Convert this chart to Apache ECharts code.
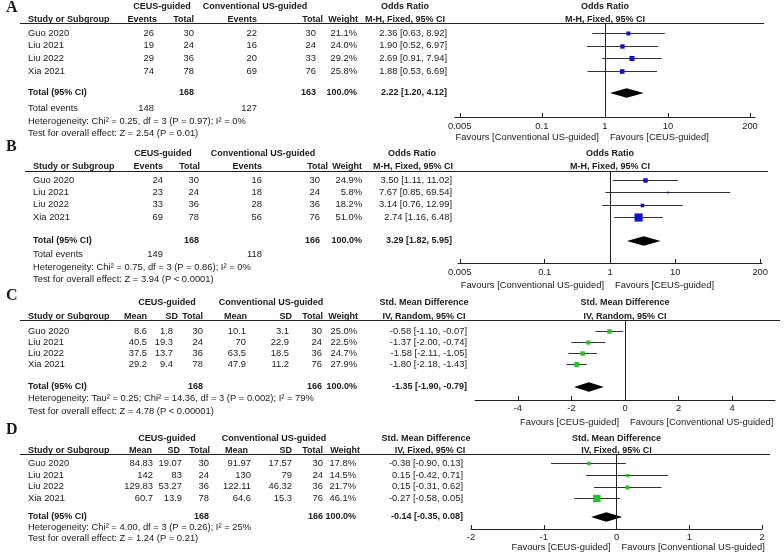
<!DOCTYPE html>
<html><head><meta charset="utf-8">
<script src="https://cdn.jsdelivr.net/npm/echarts@6/dist/echarts.min.js"></script>
<style>html,body{margin:0;padding:0;background:#fff}#c{width:784px;height:556px}</style>
</head><body><div id="c"></div>
<script>
// ---------------- DATA ----------------
const studies = ['Guo 2020', 'Liu 2021', 'Liu 2022', 'Xia 2021'];
const groupHeads = ['CEUS-guided', 'Conventional US-guided'];

// Panel A (odds ratio)
const aCeusEvents = [26, 19, 29, 74];
const aCeusTotal  = [30, 24, 36, 78];
const aConvEvents = [22, 16, 20, 69];
const aConvTotal  = [30, 24, 33, 76];
const aWeight = [21.1, 24.0, 29.2, 25.8];
const aEst  = [2.36, 1.90, 2.69, 1.88];
const aLow  = [0.63, 0.52, 0.91, 0.53];
const aHigh = [8.92, 6.97, 7.94, 6.69];
const aPooled = [2.22, 1.20, 4.12];
const aSums = [168, 163];
const aTotalEvents = [148, 127];
const aHet  = 'Heterogeneity: Chi\u00b2 = 0.25, df = 3 (P = 0.97); I\u00b2 = 0%';
const aTest = 'Test for overall effect: Z = 2.54 (P = 0.01)';

// Panel B (odds ratio)
const bCeusEvents = [24, 23, 33, 69];
const bCeusTotal  = [30, 24, 36, 78];
const bConvEvents = [16, 18, 28, 56];
const bConvTotal  = [30, 24, 36, 76];
const bWeight = [24.9, 5.8, 18.2, 51.0];
const bEst  = [3.50, 7.67, 3.14, 2.74];
const bLow  = [1.11, 0.85, 0.76, 1.16];
const bHigh = [11.02, 69.54, 12.99, 6.48];
const bPooled = [3.29, 1.82, 5.95];
const bSums = [168, 166];
const bTotalEvents = [149, 118];
const bHet  = 'Heterogeneity: Chi\u00b2 = 0.75, df = 3 (P = 0.86); I\u00b2 = 0%';
const bTest = 'Test for overall effect: Z = 3.94 (P < 0.0001)';

const orTicks = [0.005, 0.1, 1, 10, 200];

// Panel C (std. mean difference, random)
const cCeusMean = [8.6, 40.5, 37.5, 29.2];
const cCeusSD   = [1.8, 19.3, 13.7, 9.4];
const cCeusN    = [30, 24, 36, 78];
const cConvMean = [10.1, 70, 63.5, 47.9];
const cConvSD   = [3.1, 22.9, 18.5, 11.2];
const cConvN    = [30, 24, 36, 76];
const cWeight = [25.0, 22.5, 24.7, 27.9];
const cEst  = [-0.58, -1.37, -1.58, -1.80];
const cLow  = [-1.10, -2.00, -2.11, -2.18];
const cHigh = [-0.07, -0.74, -1.05, -1.43];
const cPooled = [-1.35, -1.90, -0.79];
const cSums = [168, 166];
const cHet  = 'Heterogeneity: Tau\u00b2 = 0.25; Chi\u00b2 = 14.36, df = 3 (P = 0.002); I\u00b2 = 79%';
const cTest = 'Test for overall effect: Z = 4.78 (P < 0.00001)';
const cTicks = [-4, -2, 0, 2, 4];

// Panel D (std. mean difference, fixed)
const dCeusMean = [84.83, 142, 129.83, 60.7];
const dCeusSD   = [19.07, 83, 53.27, 13.9];
const dCeusN    = [30, 24, 36, 78];
const dConvMean = [91.97, 130, 122.11, 64.6];
const dConvSD   = [17.57, 79, 46.32, 15.3];
const dConvN    = [30, 24, 36, 76];
const dWeight = [17.8, 14.5, 21.7, 46.1];
const dEst  = [-0.38, 0.15, 0.15, -0.27];
const dLow  = [-0.90, -0.42, -0.31, -0.58];
const dHigh = [0.13, 0.71, 0.62, 0.05];
const dPooled = [-0.14, -0.35, 0.08];
const dSums = [168, 166];
const dHet  = 'Heterogeneity: Chi\u00b2 = 4.00, df = 3 (P = 0.26); I\u00b2 = 25%';
const dTest = 'Test for overall effect: Z = 1.24 (P = 0.21)';
const dTicks = [-2, -1, 0, 1, 2];

const favCeusRight = ['Favours [Conventional US-guided]', 'Favours [CEUS-guided]'];
const favCeusLeft  = ['Favours [CEUS-guided]', 'Favours [Conventional US-guided]'];

// ---------------- STYLE / LAYOUT ----------------
const FAM = '"Liberation Sans", Arial, Helvetica, sans-serif';
const FS = 9.4;
const REG = FS + 'px ' + FAM;
const BOLD = 'bold 9px ' + FAM;
const TXT = '#1a1a1a';
const BLUE = '#1010d0';
const GREEN = '#1ec81e';

const panels = [
  { letter: 'A', kind: 'dich', log: true, ref: 1, ticks: orTicks, color: BLUE,
    c1: [aCeusEvents, aCeusTotal], c2: [aConvEvents, aConvTotal], w: aWeight, est: aEst, lo: aLow, hi: aHigh,
    pooled: aPooled, sums: aSums, te: aTotalEvents, het: aHet, test: aTest, fav: favCeusRight,
    measure: ['Odds Ratio', 'M-H, Fixed, 95% CI'],
    L: { lab: [6, 8], h1y: 7, h2y: 20, lineY: 23, lineX: [20, 764], row0: 33, step: 12.67, totY: 93, teY: 108, hetY: 121, testY: 133,
         axisY: 117, tickY: 127, favY: 137, xL: 455, xR: 755, xMin: 0.0042, xMax: 240, nameX: 28,
         h1: [162, 255, 405], h2: [['Events', 157], ['Total', 194], ['Events', 257], ['Total', 323], ['Weight', 358]], h2c: 405,
         col: [154, 194, 257, 316, 357, 447] } },
  { letter: 'B', kind: 'dich', log: true, ref: 1, ticks: orTicks, color: BLUE,
    c1: [bCeusEvents, bCeusTotal], c2: [bConvEvents, bConvTotal], w: bWeight, est: bEst, lo: bLow, hi: bHigh,
    pooled: bPooled, sums: bSums, te: bTotalEvents, het: bHet, test: bTest, fav: favCeusRight,
    measure: ['Odds Ratio', 'M-H, Fixed, 95% CI'],
    L: { lab: [6, 147], h1y: 154, h2y: 167, lineY: 171, lineX: [25, 768], row0: 180, step: 12.33, totY: 241, teY: 254, hetY: 267, testY: 279,
         axisY: 263, tickY: 273, favY: 285, xL: 458, xR: 762, xMin: 0.0047, xMax: 213, nameX: 33,
         h1: [163, 263, 412], h2: [['Events', 163], ['Total', 200], ['Events', 262], ['Total', 328], ['Weight', 362]], h2c: 413,
         col: [163, 199, 262, 320, 362, 452] } },
  { letter: 'C', kind: 'cont', log: false, ref: 0, ticks: cTicks, color: GREEN,
    c1: [cCeusMean, cCeusSD, cCeusN], c2: [cConvMean, cConvSD, cConvN], w: cWeight, est: cEst, lo: cLow, hi: cHigh,
    pooled: cPooled, sums: cSums, te: null, het: cHet, test: cTest, fav: favCeusLeft,
    measure: ['Std. Mean Difference', 'IV, Random, 95% CI'],
    L: { lab: [6, 296], h1y: 303, h2y: 317, lineY: 320, lineX: [20, 780], row0: 331, step: 11, totY: 387, hetY: 398.5, testY: 411,
         axisY: 400, tickY: 409, favY: 422, xL: 475, xR: 775, xMin: -5.6, xMax: 5.6, nameX: 28,
         h1: [167, 271, 424], h2: [['Mean', 147], ['SD', 178], ['Total', 203], ['Mean', 247], ['SD', 292], ['Total', 323], ['Weight', 358]], h2c: 424,
         col: [147, 173, 203, 246, 289, 322, 357, 467] } },
  { letter: 'D', kind: 'cont', log: false, ref: 0, ticks: dTicks, color: GREEN,
    c1: [dCeusMean, dCeusSD, dCeusN], c2: [dConvMean, dConvSD, dConvN], w: dWeight, est: dEst, lo: dLow, hi: dHigh,
    pooled: dPooled, sums: dSums, te: null, het: dHet, test: dTest, fav: favCeusLeft,
    measure: ['Std. Mean Difference', 'IV, Fixed, 95% CI'],
    L: { lab: [6, 430], h1y: 439, h2y: 451, lineY: 454, lineX: [20, 770], row0: 463.3, step: 11.67, totY: 517, hetY: 527.5, testY: 538.5,
         axisY: 529, tickY: 538, favY: 547, xL: 471, xR: 762, xMin: -2, xMax: 2, nameX: 28,
         h1: [167, 274, 426], h2: [['Mean', 152], ['SD', 180], ['Total', 210], ['Mean', 248], ['SD', 292], ['Total', 323], ['Weight', 360]], h2c: 430,
         col: [153, 182, 209, 251, 292, 323, 356, 463] } }
];

// ---------------- CHART ----------------
const chart = echarts.init(document.getElementById('c'), null, { renderer: 'canvas' });

const f2 = v => v.toFixed(2);
const ci = (e, l, h) => f2(e) + ' [' + f2(l) + ', ' + f2(h) + ']';
const rowOf = (L, y) => (y - L.row0) / L.step;

const grids = [], xAxes = [], yAxes = [], series = [];
panels.forEach((p, i) => {
  const L = p.L;
  grids.push({ left: L.xL, width: L.xR - L.xL, top: L.lineY, height: L.axisY - L.lineY, containLabel: false, outerBoundsMode: 'none' });
  xAxes.push({
    gridIndex: i, type: p.log ? 'log' : 'value', logBase: 10, min: L.xMin, max: L.xMax,
    axisLine: { show: true, onZero: false, lineStyle: { color: '#222', width: 1 } },
    axisTick: { show: true, inside: true, length: 4, customValues: p.ticks, lineStyle: { color: '#222', width: 1 } },
    axisLabel: { show: true, customValues: p.ticks, margin: L.tickY - L.axisY - FS / 2, color: TXT, fontSize: FS, fontFamily: FAM,
                 formatter: v => String(+(+v).toPrecision(6)) },
    splitLine: { show: false }, minorTick: { show: false }
  });
  yAxes.push({ gridIndex: i, type: 'value', inverse: true, show: false,
               min: rowOf(L, L.lineY), max: rowOf(L, L.axisY) });
  // study rows: CI line + weighted square
  series.push({
    type: 'custom', xAxisIndex: i, yAxisIndex: i, silent: true, clip: false, z: 3,
    data: p.est.map((e, k) => [e, k, p.lo[k], p.hi[k], p.w[k]]),
    encode: { x: [0, 2, 3], y: 1 },
    renderItem: (params, api) => {
      const row = api.value(1);
      const c = api.coord([api.value(0), row]);
      const a = api.coord([api.value(2), row]);
      const b = api.coord([api.value(3), row]);
      const s = 1 + 0.14 * api.value(4);
      const yy = Math.round(c[1]) + 0.5;
      return { type: 'group', children: [
        { type: 'line', shape: { x1: a[0], y1: yy, x2: b[0], y2: yy }, style: { stroke: '#333', lineWidth: 1 } },
        { type: 'rect', shape: { x: c[0] - s / 2, y: yy - s / 2, width: s, height: s }, style: { fill: p.color } }
      ] };
    },
    markLine: { silent: true, symbol: ['none', 'none'], label: { show: false }, animation: false,
                lineStyle: { color: '#222', width: 1, type: 'solid' }, data: [{ xAxis: p.ref }] }
  });
  // pooled diamond
  series.push({
    type: 'custom', xAxisIndex: i, yAxisIndex: i, silent: true, clip: false, z: 4,
    data: [[p.pooled[0], rowOf(L, L.totY), p.pooled[1], p.pooled[2]]],
    encode: { x: [0, 2, 3], y: 1 },
    renderItem: (params, api) => {
      const row = api.value(1);
      const c = api.coord([api.value(0), row]);
      const a = api.coord([api.value(2), row]);
      const b = api.coord([api.value(3), row]);
      const h = 4.8;
      return { type: 'polygon', shape: { points: [[a[0], c[1]], [c[0], c[1] - h], [b[0], c[1]], [c[0], c[1] + h]] },
               style: { fill: '#000' } };
    }
  });
});

chart.setOption({ animation: false, backgroundColor: '#fff', grid: grids, xAxis: xAxes, yAxis: yAxes, series: series });

// ---------------- TEXT TABLE ----------------
const G = [];
function t(text, x, y, align, font) {
  G.push({ type: 'text', silent: true, z: 10,
    style: { text: text, x: x, y: y, font: font || REG, fill: TXT, textAlign: align || 'left', textVerticalAlign: 'middle' } });
}
panels.forEach((p, i) => {
  const L = p.L;
  t(p.letter, L.lab[0], L.lab[1], 'left', 'bold 16px "Liberation Serif", "Times New Roman", serif');
  // header row 1
  t(groupHeads[0], L.h1[0], L.h1y, 'center', BOLD);
  t(groupHeads[1], L.h1[1], L.h1y, 'center', BOLD);
  t(p.measure[0], L.h1[2], L.h1y, 'center', BOLD);
  const cx = (L.xL + L.xR) / 2;
  t(p.measure[0], cx, L.h1y, 'center', BOLD);
  // header row 2
  t('Study or Subgroup', L.nameX, L.h2y, 'left', BOLD);
  L.h2.forEach(h => t(h[0], h[1], L.h2y, 'right', BOLD));
  t(p.measure[1], L.h2c, L.h2y, 'center', BOLD);
  t(p.measure[1], cx, L.h2y, 'center', BOLD);
  // header line
  G.push({ type: 'line', silent: true, z: 9, shape: { x1: L.lineX[0], y1: L.lineY + 0.5, x2: L.lineX[1], y2: L.lineY + 0.5 },
           style: { stroke: '#222', lineWidth: 1 } });
  // study rows
  const cols = p.c1.concat(p.c2);
  studies.forEach((s, k) => {
    const y = L.row0 + k * L.step;
    t(s, L.nameX, y, 'left');
    cols.forEach((arr, j) => t(String(arr[k]), L.col[j], y, 'right'));
    t(p.w[k].toFixed(1) + '%', L.col[cols.length], y, 'right');
    t(ci(p.est[k], p.lo[k], p.hi[k]), L.col[cols.length + 1], y, 'right');
  });
  // total row
  const nTotCol1 = p.kind === 'dich' ? 1 : 2;
  const nTotCol2 = p.kind === 'dich' ? 3 : 5;
  t('Total (95% CI)', L.nameX, L.totY, 'left', BOLD);
  t(String(p.sums[0]), L.col[nTotCol1], L.totY, 'right', BOLD);
  t(String(p.sums[1]), L.col[nTotCol2], L.totY, 'right', BOLD);
  t('100.0%', L.col[cols.length], L.totY, 'right', BOLD);
  t(ci(p.pooled[0], p.pooled[1], p.pooled[2]), L.col[cols.length + 1], L.totY, 'right', BOLD);
  if (p.te) {
    t('Total events', L.nameX, L.teY, 'left');
    t(String(p.te[0]), L.col[0], L.teY, 'right');
    t(String(p.te[1]), L.col[2], L.teY, 'right');
  }
  t(p.het, L.nameX, L.hetY, 'left');
  t(p.test, L.nameX, L.testY, 'left');
  // favours labels around the reference line
  const rx = chart.convertToPixel({ xAxisIndex: i }, p.ref);
  t(p.fav[0], rx - 6, L.favY, 'right');
  t(p.fav[1], rx + 5, L.favY, 'left');
});

chart.setOption({ graphic: { elements: G } });
</script>
</body></html>
